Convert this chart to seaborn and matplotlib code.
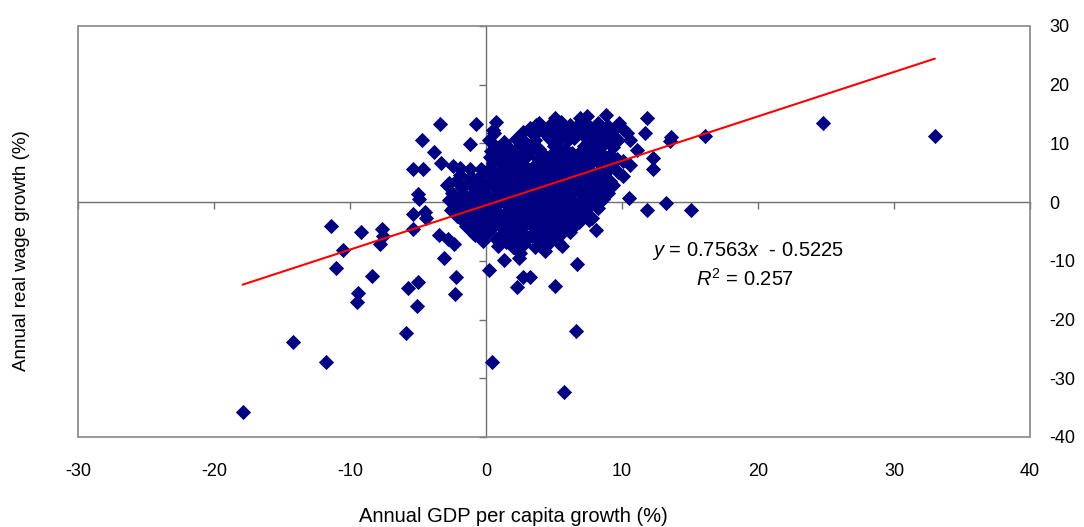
import numpy as np
import pandas as pd
import matplotlib
matplotlib.use("Agg")
import matplotlib.pyplot as plt
import seaborn as sns
from matplotlib.patches import Rectangle

# ---- data (annual GDP per capita growth, annual real wage growth) ----
gdp_growth = [
    # outliers left / low
    -17.9, -14.2, -11.8, -11.4, -10.5, -11.0, -9.2, -7.65, -7.6, -7.8, -8.4, -9.4, -9.5,
    -5.75, -5.0, -5.1, -5.9, -3.06, -2.2, -2.25, 0.24, 0.44,
    # left of the cluster
    -5.0, -4.9, -5.4, -4.5, -4.4, -5.35, -3.45, -2.8, -2.35, -2.7, -2.45, -1.96, -1.47, -0.98,
    # upper left
    -3.4, -0.73, 0.73, 0.56, -4.7, -1.17, 0.56, -3.84, 2.7, 3.67, 5.06, -3.3, -2.4, -1.9, -1.2,
    -0.4, -5.4, -4.6, -2.9,
    # right side
    8.8, 11.85, 11.7, 13.6, 13.56, 16.1, 11.1, 12.3, 12.3, 10.1, 10.6, 10.1, 9.3, 10.5, 13.2,
    11.85, 15.1, 8.2, 7.8, 8.06, 8.4, 24.8, 33.0,
    # below the cluster
    1.3, 2.4, 2.7, 3.2, 2.3, 5.1, 6.7, 4.3, 6.6, 5.7,
    # dense cluster
    6.9, 7.4,
    3.9, 4.6, 5.5, 6.2, 7.0, 7.6, 8.2, 9.0, 9.8,
    0.5, 3.2, 4.1, 4.8, 5.3, 6.0, 6.6, 7.4, 8.0, 8.5, 9.3, 10.1,
    3.5, 4.3, 5.0, 5.7, 6.5, 7.1, 7.9, 8.7, 9.4, 10.4,
    0.2, 1.3, 2.2, 2.9, 3.6, 4.6, 5.3, 6.1, 7.5, 8.2, 9.0, 9.7, 10.6,
    1.0, 1.7, 2.5, 3.2, 3.9, 5.0, 5.8, 7.2, 7.9, 8.6, 9.3,
    0.4, 1.2, 1.9, 2.6, 3.4, 4.1, 4.8, 5.5, 6.3, 7.0, 7.6, 8.4, 9.1,
    0.3, 0.9, 1.6, 2.3, 3.0, 3.8, 4.5, 5.2, 5.9, 6.7, 7.4, 8.1, 8.9, 9.6,
    0.5, 1.3, 2.0, 2.8, 3.5, 4.2, 4.9, 5.6, 6.4, 7.1, 7.8, 8.6, 9.3,
    0.2, 1.0, 1.7, 2.4, 3.1, 3.9, 4.6, 5.3, 6.0, 6.8, 7.5, 8.3, 9.0, 9.7,
    -1.9, -1.1, -0.3, 0.6, 1.4, 2.1, 2.8, 3.6, 4.3, 5.0, 5.7, 6.5, 7.2, 8.0, 8.7,
    -2.2, -1.4, -0.6, 0.2, 1.0, 1.8, 2.5, 3.3, 4.0, 4.7, 5.4, 6.2, 6.9, 7.6, 8.4, 9.1,
    -1.8, -1.0, -0.2, 0.6, 1.4, 2.1, 2.9, 3.6, 4.4, 5.1, 5.8, 6.6, 7.3, 8.0, 8.8,
    -2.5, -1.6, -0.8, 0.0, 0.8, 1.6, 2.3, 3.1, 3.8, 4.6, 5.3, 6.0, 6.8, 7.5, 8.2, 9.0,
    -2.7, -1.9, -1.1, -0.3, 0.5, 1.3, 2.0, 2.8, 3.5, 4.3, 5.0, 5.7, 6.5, 7.2, 7.9, 8.6,
    -2.3, -1.5, -0.7, 0.1, 0.9, 1.7, 2.4, 3.2, 3.9, 4.7, 5.4, 6.1, 6.9, 7.6,
    -2.6, -1.8, -1.0, -0.2, 0.6, 1.4, 2.1, 2.9, 3.6, 4.4, 5.1, 5.8, 6.6, 7.3,
    -2.1, -1.3, -0.5, 0.3, 1.1, 1.9, 2.6, 3.4, 4.1, 4.9, 5.6, 6.3, 7.1,
    -1.6, -0.8, 0.0, 0.8, 1.6, 2.4, 3.1, 3.9, 4.6, 5.4, 6.1, 6.8, 7.6,
    -0.4, 0.5, 1.3, 2.1, 2.8, 3.6, 4.3, 5.1, 5.8, 6.5,
    -0.8, 0.1, 1.0, 1.8, 2.6, 3.3, 4.1, 4.8, 5.5, 6.2,
    -0.2, 0.7, 1.5, 2.4, 3.1, 3.8, 4.6, 5.3,
    0.9, 2.0, 2.8, 3.6, 4.5, 5.6,
    2.5,
]

wage_growth = [
    -35.7, -23.8, -27.2, -4.1, -8.1, -11.3, -5.1, -4.6, -5.7, -7.2, -12.6, -15.5, -17.0,
    -14.6, -13.6, -17.7, -22.3, -9.5, -12.8, -15.7, -11.5, -27.2,
    1.3, 0.6, -2.0, -1.6, -2.7, -4.6, -5.6, -6.25, -7.1, 3.3, -0.95, -1.8, -4.1, -5.2,
    13.3, 13.3, 13.6, 11.8, 10.5, 9.9, 9.7, 8.6, 12.0, 13.2, 14.3, 6.7, 6.1, 5.8, 5.6,
    5.6, 5.7, 5.7, 3.0,
    14.8, 14.3, 11.7, 11.1, 10.4, 11.2, 8.9, 7.5, 5.7, 7.0, 6.4, 4.4, 3.0, 0.7, -0.2,
    -1.36, -1.36, -0.95, -2.65, -4.8, 1.0, 13.4, 11.3,
    -9.8, -9.6, -12.7, -12.8, -14.5, -14.3, -10.5, -8.3, -22.0, -32.4,
    14.3, 14.7,
    13.4, 13.0, 13.7, 13.1, 13.6, 12.9, 13.4, 13.0, 13.5,
    12.3, 12.6, 12.2, 12.8, 12.0, 12.5, 12.2, 12.7, 12.1, 12.6, 12.3, 12.5,
    11.4, 11.8, 11.3, 11.6, 11.0, 11.5, 11.2, 11.7, 11.1, 11.8,
    10.6, 10.3, 10.7, 10.2, 10.5, 10.9, 10.4, 10.8, 10.3, 10.7, 10.2, 10.5, 10.6,
    9.6, 9.2, 9.7, 9.4, 9.1, 9.6, 9.0, 9.5, 9.2, 9.8, 9.4,
    8.7, 8.2, 8.6, 8.3, 8.8, 8.4, 8.1, 8.6, 8.3, 8.7, 8.2, 8.5, 8.0,
    7.7, 7.3, 7.6, 7.2, 7.8, 7.4, 7.1, 7.6, 7.3, 7.8, 7.4, 7.1, 7.6, 7.3,
    6.6, 6.2, 6.8, 6.4, 6.1, 6.6, 6.3, 6.8, 6.2, 6.5, 6.9, 6.3, 6.6,
    5.6, 5.3, 5.8, 5.4, 5.1, 5.6, 5.3, 5.8, 5.4, 5.1, 5.7, 5.3, 5.5, 5.2,
    4.6, 4.3, 4.8, 4.4, 4.1, 4.7, 4.3, 4.6, 4.2, 4.8, 4.4, 4.1, 4.7, 4.3, 4.6,
    3.6, 3.3, 3.8, 3.4, 3.1, 3.7, 3.3, 3.8, 3.5, 3.1, 3.6, 3.2, 3.7, 3.4, 3.1, 3.6,
    2.4, 2.7, 2.2, 2.6, 2.3, 2.8, 2.4, 2.1, 2.6, 2.3, 2.8, 2.4, 2.1, 2.6, 2.3,
    1.6, 1.3, 1.8, 1.4, 1.1, 1.7, 1.3, 1.8, 1.5, 1.1, 1.6, 1.2, 1.7, 1.4, 1.1, 1.6,
    0.4, 0.7, 0.2, 0.6, 0.3, 0.8, 0.4, 0.1, 0.6, 0.3, 0.8, 0.4, 0.1, 0.6, 0.3, 0.5,
    -0.4, -0.7, -0.2, -0.6, -0.3, -0.8, -0.4, -0.1, -0.6, -0.3, -0.8, -0.4, -0.1, -0.6,
    -1.4, -1.7, -1.2, -1.6, -1.3, -1.8, -1.4, -1.1, -1.6, -1.3, -1.8, -1.4, -1.1, -1.6,
    -2.4, -2.7, -2.2, -2.6, -2.3, -2.8, -2.4, -2.1, -2.6, -2.3, -2.8, -2.4, -2.1,
    -3.4, -3.7, -3.2, -3.6, -3.3, -3.8, -3.4, -3.1, -3.6, -3.3, -3.8, -3.4, -3.1,
    -4.6, -4.3, -4.8, -4.4, -4.1, -4.6, -4.3, -4.8, -4.4, -4.1,
    -5.6, -5.3, -5.8, -5.4, -5.1, -5.6, -5.3, -5.8, -5.4, -5.1,
    -6.6, -6.3, -6.8, -6.4, -6.1, -6.6, -6.3, -6.8,
    -7.4, -7.7, -7.2, -7.6, -7.3, -7.5,
    -8.6,
]

x_ticks = [-30, -20, -10, 0, 10, 20, 30, 40]
y_ticks = [-40, -30, -20, -10, 0, 10, 20, 30]

# trend line as printed on the chart
slope = 0.7563
intercept = -0.5225
r_squared = 0.257

assert len(gdp_growth) == len(wage_growth)

sns.set_theme(style="white")
plt.rcParams["font.family"] = ["Liberation Sans", "DejaVu Sans"]
plt.rcParams["mathtext.fontset"] = "custom"
plt.rcParams["mathtext.rm"] = "Liberation Sans"
plt.rcParams["mathtext.it"] = "Liberation Sans:italic"
plt.rcParams["axes.unicode_minus"] = False
plt.rcParams["text.color"] = "black"
plt.rcParams["xtick.color"] = "black"
plt.rcParams["ytick.color"] = "black"

fig = plt.figure(figsize=(10.84, 5.27), dpi=100)
ax = fig.add_axes([0.0720, 0.1708, 0.8782, 0.7799])

df = pd.DataFrame({"gdp": gdp_growth, "wage": wage_growth})
sns.scatterplot(data=df, x="gdp", y="wage", marker="D", s=60, color="#000080",
                linewidth=0, ax=ax, zorder=3)

xfit = np.array([df["gdp"].min(), df["gdp"].max()])
sns.lineplot(x=xfit, y=slope * xfit + intercept, color="#FF0000", linewidth=1.5,
             ax=ax, zorder=4)

ax.set_xlim(-30, 40)
ax.set_ylim(-40, 30)
ax.set_xticks(x_ticks)
ax.set_yticks(y_ticks)

axis_col = "#707070"
for s in ["top", "right"]:
    ax.spines[s].set_visible(False)
ax.spines["left"].set_position(("data", 0))
ax.spines["bottom"].set_position(("data", 0))
for s in ["left", "bottom"]:
    ax.spines[s].set_color(axis_col)
    ax.spines[s].set_linewidth(1.0)
ax.tick_params(axis="both", which="major", direction="out", length=5, width=1,
               color=axis_col, labelleft=False, labelbottom=False,
               left=True, bottom=True)
ax.add_patch(Rectangle((0, 0), 1, 1, transform=ax.transAxes, fill=False,
                       edgecolor="#868686", linewidth=1.2, clip_on=False, zorder=5))

secx = ax.secondary_xaxis("bottom")
secx.set_xticks(x_ticks)
secx.tick_params(length=0, pad=19, labelsize=13, labelcolor="black")
secx.spines["bottom"].set_visible(False)

secy = ax.secondary_yaxis("right")
secy.set_yticks(y_ticks)
secy.tick_params(length=0, pad=14, labelsize=13, labelcolor="black")
secy.spines["right"].set_visible(False)

ax.set_xlabel("")
ax.set_ylabel("")
fig.text(513 / 1084, 1 - 517 / 527, "Annual GDP per capita growth (%)",
         ha="center", va="center", fontsize=14.5, color="black")
fig.text(22 / 1084, 1 - 251 / 527, "Annual real wage growth (%)",
         ha="center", va="center", rotation=90, fontsize=13.5, color="black")

ax.text(19.23, -8.32, r"$y$ = 0.7563$x$  - 0.5225", ha="center", va="center",
        fontsize=14.5, color="black", zorder=6)
ax.text(19.08, -13.12, r"$R^{\mathrm{2}}$ = 0.257", ha="center", va="center",
        fontsize=14.5, color="black", zorder=6)

fig.savefig("out.png", dpi=100)
